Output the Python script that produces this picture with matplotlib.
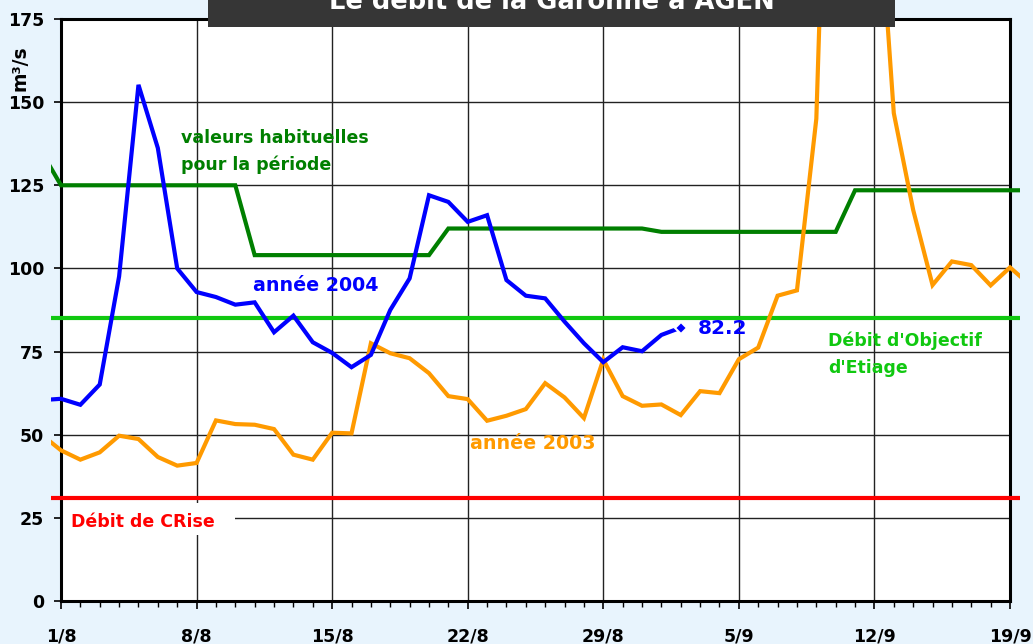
import numpy as np
import matplotlib
matplotlib.use("Agg")
import matplotlib.pyplot as plt
from matplotlib.patches import Rectangle

# jours comptes depuis le 1/8 (de 31/7 a 20/9)
days_2003 = list(range(-1, 51))
q_2003 = [50.0, 45.3, 42.5, 44.7, 49.7, 48.7, 43.3, 40.7, 41.5, 54.3,
          53.2, 53.0, 51.7, 44.0, 42.5, 50.6, 50.4, 77.5, 74.5, 73.0,
          68.5, 61.6, 60.7, 54.2, 55.7, 57.7, 65.5, 61.2, 55.0, 72.6,
          61.6, 58.7, 59.1, 55.9, 63.1, 62.5, 72.7, 76.2, 91.8, 93.4,
          145.0, 330.0, 420.0, 230.0, 146.7, 117.6, 95.0, 102.1, 101.0, 94.9,
          100.3, 95.2]

days_2004 = list(range(-1, 33))
q_2004 = [60.4, 60.8, 59.0, 65.1, 97.6, 155.2, 136.2, 100.0, 92.9, 91.4,
          89.1, 89.8, 80.8, 85.8, 77.8, 74.6, 70.3, 74.0, 87.5, 97.0,
          122.0, 120.0, 114.0, 116.0, 96.5, 91.8, 91.0, 84.0, 77.5, 71.8,
          76.3, 75.1, 80.0, 82.2]

# valeurs habituelles pour la periode
q_habit = [135] + [125] * 10 + [104] * 10 + [112] * 11 + [111] * 10 + [123.5] * 10

DOE = 85   # debit d'objectif d'etiage
DCR = 31   # debit de crise

tick_days = [0, 7, 14, 21, 28, 35, 42, 49]
tick_labels = ["1/8", "8/8", "15/8", "22/8", "29/8", "5/9", "12/9", "19/9"]

plt.rcParams['font.family'] = ['DejaVu Sans']
plt.rcParams['font.weight'] = 'bold'

fig = plt.figure(figsize=(10.33, 6.44), dpi=100, facecolor='#e8f4fd')
ax = fig.add_axes([61 / 1033, 1 - 601 / 644, 949 / 1033, 582 / 644])
ax.set_facecolor('white')

ax.set_xlim(0, 49)
ax.set_ylim(0, 175)
ax.set_yticks(np.arange(0, 176, 25))
ax.set_xticks(tick_days)
ax.set_xticklabels(tick_labels)
ax.set_xticks(range(0, 50), minor=True)
ax.grid(True, which='major', color='#222222', lw=1.0)
ax.set_axisbelow(True)
for s in ax.spines.values():
    s.set_linewidth(2.2)
    s.set_color('black')
ax.tick_params(axis='x', which='major', length=6, width=1.2, pad=13, labelsize=12.5)
ax.tick_params(axis='x', which='minor', length=4, width=1.0)
ax.tick_params(axis='y', which='major', length=5, width=1.2, pad=7, labelsize=12.5)
ax.tick_params(axis='y', which='minor', length=0)

# zone de trace des courbes (depasse un peu les axes)
clip = Rectangle((-0.5, -50), 50, 1050, transform=ax.transData)

def courbe(x, y, color):
    l, = ax.plot(x, y, color=color, lw=3.0, zorder=3, solid_joinstyle='miter')
    l.set_clip_path(clip)
    return l

courbe([days_2003[0], days_2003[-1]], [DCR, DCR], '#ff0000')
courbe([days_2003[0], days_2003[-1]], [DOE, DOE], '#10c810')
courbe(days_2003, q_habit, '#007f00')
courbe(days_2003, q_2003, '#ff9a00')
courbe(days_2004, q_2004, '#0000ff')
m, = ax.plot(days_2004[-1], q_2004[-1], 'D', color='#0000ff', ms=6.5,
             mec='white', mew=1.5, zorder=4)

# etiquettes
ax.text(6.2, 137.8, "valeurs habituelles", color='#007f00', fontsize=12.5, va='baseline')
ax.text(6.2, 129.6, "pour la période", color='#007f00', fontsize=12.5, va='baseline')
ax.text(9.9, 93.3, "année 2004", color='#0000ff', fontsize=13.7, va='baseline')
ax.text(32.9, 80.2, "%.1f" % q_2004[-1], color='#0000ff', fontsize=14.5, va='baseline')
ax.text(39.6, 76.7, "Débit d'Objectif", color='#10c810', fontsize=12.5, va='baseline')
ax.text(39.6, 68.6, "d'Etiage", color='#10c810', fontsize=12.5, va='baseline')
ax.text(21.1, 45.6, "année 2003", color='#ff9a00', fontsize=13.7, va='baseline')
ax.add_patch(Rectangle((0.1, 19.8), 8.9, 9.7, facecolor='white', edgecolor='none', zorder=2))
ax.text(0.52, 22.2, "Débit de CRise", color='#ff0000', fontsize=12.5, va='baseline', zorder=3)

fig.text(20 / 1033, 1 - 68 / 644, "m³/s", rotation=90, fontsize=13.5,
         ha='center', va='center')

# bandeau du titre (coupe en haut comme sur l'original)
fig.patches.append(Rectangle((208 / 1033, 1 - 27 / 644), 687 / 1033, 0.06,
                             transform=fig.transFigure, facecolor='#363636',
                             edgecolor='none', zorder=5))
fig.text(551.5 / 1033, 1 - 9 / 644, "Le débit de la Garonne à AGEN", color='white',
         fontsize=18.5, ha='center', va='baseline', zorder=6)

fig.savefig("out.png", dpi=100, facecolor=fig.get_facecolor())
